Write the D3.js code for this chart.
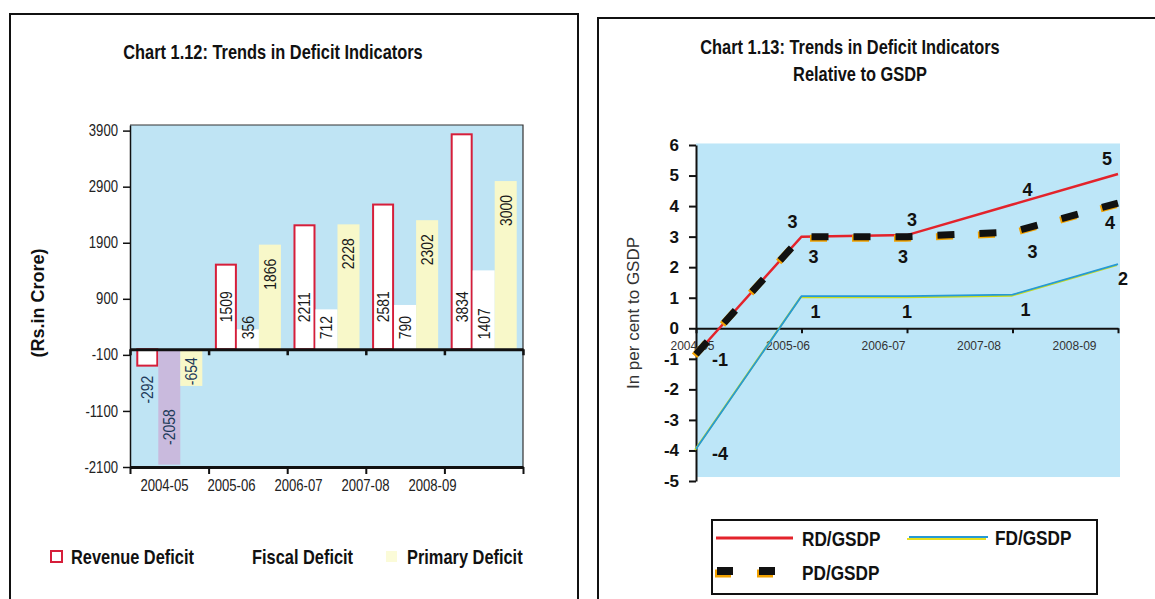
<!DOCTYPE html>
<html><head><meta charset="utf-8">
<script src="https://cdn.jsdelivr.net/npm/d3@7"></script>
<style>body{margin:0;background:#fff}svg{display:block}</style>
</head><body>
<svg id="c" width="1155" height="599"></svg>
<script>
// ---------- data ----------
const years = ["2004-05","2005-06","2006-07","2007-08","2008-09"];
const revenueDeficit = [-292, 1509, 2211, 2581, 3834];
const fiscalDeficit  = [-2058, 356, 712, 790, 1407];
const primaryDeficit = [-654, 1866, 2228, 2302, 3000];
const barTicks = [-2100, -1100, -100, 900, 1900, 2900, 3900];

const rdGsdp = [-0.85, 3.0, 3.05, 4.05, 5.05];
const fdGsdp = [-3.95, 1.05, 1.05, 1.1, 2.1];
const pdGsdp = [-0.85, 3.0, 3.0, 3.15, 4.1];
const lineTicks = [-5,-4,-3,-2,-1,0,1,2,3,4,5,6];

// ---------- setup ----------
const svg = d3.select("#c");
const FA = "'Liberation Sans',Arial,Helvetica,sans-serif";
const NX = 0.82; // narrow (Arial Narrow-like) horizontal scale

function ntext(g, x, y, txt, size, bold, anchor, rot) {
  return g.append("text")
    .attr("transform", `translate(${x},${y})${rot ? ` rotate(${rot})` : ""} scale(${NX},1)`)
    .attr("text-anchor", anchor || "start").attr("dy", "0.35em")
    .style("font-family", FA).style("font-weight", bold ? "bold" : "normal")
    .style("font-size", size + "px").attr("fill", "#111").text(txt);
}

// frames
svg.append("rect").attr("x",10).attr("y",14).attr("width",568).attr("height",620)
  .attr("fill","none").attr("stroke","#111").attr("stroke-width",2);
svg.append("rect").attr("x",598).attr("y",18).attr("width",600).attr("height",620)
  .attr("fill","none").attr("stroke","#111").attr("stroke-width",2);

// ================= LEFT: bar chart =================
const L = {l:130, r:523, t:125, b:467};
const seriesNames = ["Revenue Deficit","Fiscal Deficit","Primary Deficit"];
const seriesVals = [revenueDeficit, fiscalDeficit, primaryDeficit];

const xb = d3.scaleBand().domain(years).range([L.l, L.r]).paddingInner(0.16).paddingOuter(0.08);
const xs = d3.scaleBand().domain(seriesNames).range([0, xb.bandwidth()]);
const xTick = d3.scaleLinear().domain([0, years.length]).range([L.l, L.r]);
const xLab = d3.scaleBand().domain(years).range([131, 466]);
const yb = d3.scaleLinear().domain([-2100, 4000]).range([L.b, L.t]);

ntext(svg, 273, 52, "Chart 1.12: Trends in Deficit Indicators", 20, true, "middle");

const gL = svg.append("g");
gL.append("rect").attr("x",L.l).attr("y",yb(4000)).attr("width",L.r-L.l).attr("height",yb(-2100)-yb(4000))
  .attr("fill","#bfe4f4");
gL.append("path").attr("d",`M${L.l},${yb(4000)}H${L.r}V${yb(-2100)}`).attr("fill","none")
  .attr("stroke","#333").attr("stroke-width",1.2);

const fills = ["#ffffff","#ffffff","#f8f8c9"];
seriesNames.forEach((s, si) => {
  const vals = seriesVals[si];
  gL.append("g").selectAll("rect").data(years).join("rect")
    .attr("x", (d) => xb(d) + xs(s) + (si===0?1:0))
    .attr("width", xs.bandwidth() - (si===0?2:0))
    .attr("y", (d,i) => Math.min(yb(vals[i]), yb(0)))
    .attr("height", (d,i) => Math.abs(yb(vals[i]) - yb(0)))
    .attr("fill", (d,i) => (si===1 && vals[i] < 0) ? "#c9badd" : fills[si])
    .attr("stroke", si===0 ? "#d61e3a" : "none")
    .attr("stroke-width", 2);
});

// axes
const axY = gL.append("g").attr("transform",`translate(${L.l},0)`)
  .call(d3.axisLeft(yb).tickValues(barTicks).tickFormat(d => String(d)).tickSize(7).tickSizeOuter(0).tickPadding(5));
axY.select(".domain").attr("stroke","#111").attr("stroke-width",1.5);
axY.selectAll(".tick line").attr("stroke","#111").attr("stroke-width",1.5);
axY.selectAll("text").attr("x", -12 / NX).attr("transform",`scale(${NX},1)`)
  .style("font-family",FA).style("font-size","16px").attr("fill","#222");

const axZero = gL.append("g").attr("transform",`translate(0,${yb(0)})`)
  .call(d3.axisBottom(xTick).tickValues(d3.range(years.length+1)).tickFormat("").tickSize(6).tickSizeOuter(0));
axZero.select(".domain").attr("stroke","#111").attr("stroke-width",3);
axZero.selectAll(".tick line").attr("stroke","#111").attr("stroke-width",2.5);

const axBot = gL.append("g").attr("transform",`translate(0,${L.b})`)
  .call(d3.axisBottom(xTick).tickValues(d3.range(years.length+1)).tickFormat("").tickSize(7).tickSizeOuter(0));
axBot.select(".domain").attr("stroke","#111").attr("stroke-width",3);
axBot.selectAll(".tick line").attr("stroke","#111").attr("stroke-width",2);

const axLab = gL.append("g").attr("transform",`translate(0,${L.b+10})`)
  .call(d3.axisBottom(xLab).tickSize(0).tickPadding(3));
axLab.select(".domain").remove();
axLab.selectAll("text").attr("transform",`scale(${NX},1)`)
  .style("font-family",FA).style("font-size","16px").attr("fill","#222");

// bar value labels (rotated)
seriesNames.forEach((s, si) => {
  const vals = seriesVals[si];
  const g = gL.append("g");
  years.forEach((d, i) => {
    const v = vals[i];
    const cx = xb(d) + xs(s) + xs.bandwidth()/2;
    let y, anchor;
    if (v >= 0) {
      if (si===0) { y = yb(0) - 27; anchor = "start"; }
      else if (si===1) { y = yb(0) - 10; anchor = "start"; }
      else { y = yb(v) + 14; anchor = "end"; }
    } else {
      anchor = "end";
      if (si===0) { y = yb(v) + 10; }
      else if (si===1) { y = yb(0) + 60; }
      else { y = yb(0) + 8; }
    }
    ntext(g, cx, y, String(v), 17, false, anchor, -90).attr("fill", v < 0 ? "#1d3a5a" : "#1a1a1a");
  });
});

// y title
svg.append("text").attr("transform","translate(38,303) rotate(-90)").attr("text-anchor","middle")
  .attr("dy","0.35em").style("font-family",FA).style("font-weight","bold").style("font-size","18px")
  .attr("fill","#111").text("(Rs.in Crore)");

// legend
const lg = svg.append("g");
lg.append("rect").attr("x",51).attr("y",551).attr("width",11).attr("height",11)
  .attr("fill","#fff").attr("stroke","#d61e3a").attr("stroke-width",2);
lg.append("rect").attr("x",386).attr("y",551).attr("width",11).attr("height",11).attr("fill","#fbfbd8");
[["Revenue Deficit",71],["Fiscal Deficit",252],["Primary Deficit",407]].forEach(([t,x]) => {
  ntext(lg, x, 557, t, 20, true, "start");
});

// ================= RIGHT: line chart =================
const R = {l:696, r:1118, t:145, b:481};
const xp = d3.scalePoint().domain(years).range([R.l, R.r]);
const xpLab = d3.scalePoint().domain(years).range([692, 1074]);
const yl = d3.scaleLinear().domain([-5, 6]).range([R.b, R.t]);

ntext(svg, 850, 47, "Chart 1.13: Trends in Deficit Indicators", 20, true, "middle");
ntext(svg, 860, 74, "Relative to GSDP", 20, true, "middle");

const gR = svg.append("g");
gR.append("rect").attr("x",R.l).attr("y",yl(6.05)).attr("width",R.r-R.l+2).attr("height",yl(-4.87)-yl(6.05))
  .attr("fill","#bde6f8");

const axYR = gR.append("g").attr("transform",`translate(${R.l},0)`)
  .call(d3.axisLeft(yl).tickValues(lineTicks).tickFormat(d => String(d)).tickSize(7).tickSizeOuter(0).tickPadding(10));
axYR.select(".domain").attr("stroke","#111").attr("stroke-width",2);
axYR.selectAll(".tick line").attr("stroke","#111").attr("stroke-width",2);
axYR.selectAll("text").style("font-family",FA).style("font-weight","bold").style("font-size","17px").attr("fill","#111");

const axXR = gR.append("g").attr("transform",`translate(0,${yl(0)})`)
  .call(d3.axisBottom(xp).tickSize(5).tickSizeOuter(0).tickFormat(""));
axXR.select(".domain").attr("stroke","#111").attr("stroke-width",2);
axXR.selectAll(".tick line").attr("stroke","#111").attr("stroke-width",2);

const axXRL = gR.append("g").attr("transform",`translate(0,${yl(0)+13})`)
  .call(d3.axisBottom(xpLab).tickSize(0).tickPadding(0));
axXRL.select(".domain").remove();
axXRL.selectAll("text").style("font-family",FA).style("font-size","12px").attr("fill","#333");

// y title
svg.append("text").attr("transform","translate(633,313) rotate(-90)").attr("text-anchor","middle")
  .attr("dy","0.35em").style("font-family",FA).style("font-size","17px").attr("fill","#333")
  .text("In per cent to GSDP");

const line = (vals) => d3.line().x((d,i) => xp(years[i])).y((d) => yl(d))(vals);

// RD
gR.append("path").attr("d", line(rdGsdp)).attr("fill","none").attr("stroke","#e3232b").attr("stroke-width",2.5);
// FD (scan fringe)
gR.append("path").attr("d", line(fdGsdp)).attr("fill","none").attr("stroke","#c9dc1e").attr("stroke-width",2)
  .attr("transform","translate(-1,1)");
gR.append("path").attr("d", line(fdGsdp)).attr("fill","none").attr("stroke","#2599d6").attr("stroke-width",1.8);
// PD dashed
gR.append("path").attr("d", line(pdGsdp)).attr("fill","none").attr("stroke","#f2a200").attr("stroke-width",7)
  .attr("stroke-dasharray","17,25").attr("transform","translate(-1.5,1.5)");
gR.append("path").attr("d", line(pdGsdp)).attr("fill","none").attr("stroke","#111").attr("stroke-width",7)
  .attr("stroke-dasharray","17,25");

// point labels
function pointLabels(vals, above, dyBelow, skipFirst, dxs) {
  const pts = vals.map((v, i) => ({v, i})).filter(p => !(skipFirst && p.i === 0));
  gR.append("g").selectAll("text").data(pts).join("text")
    .attr("x", p => xp(years[p.i]) + dxs[p.i])
    .attr("y", p => yl(p.v) + (p.i===0 ? 5 : (above ? -15 : dyBelow)))
    .attr("text-anchor","middle").attr("dy","0.35em")
    .style("font-family",FA).style("font-weight","bold").style("font-size","18px").attr("fill","#111")
    .text(p => Math.round(p.v));
}
pointLabels(rdGsdp, true, 0, false, [24, -9, 5, 15, -11]);
pointLabels(pdGsdp, false, 20, true, [24, 12, -4, 20, -8]);
pointLabels(fdGsdp, false, 15, false, [24, 14, 0, 13, 5]);

// legend
const lgR = svg.append("g");
lgR.append("rect").attr("x",712).attr("y",520).attr("width",385).attr("height",74)
  .attr("fill","#fff").attr("stroke","#111").attr("stroke-width",2);
lgR.append("line").attr("x1",716).attr("x2",793).attr("y1",538).attr("y2",538).attr("stroke","#e3232b").attr("stroke-width",3);
lgR.append("line").attr("x1",907).attr("x2",986).attr("y1",539).attr("y2",539).attr("stroke","#e6e020").attr("stroke-width",2);
lgR.append("line").attr("x1",909).attr("x2",988).attr("y1",537).attr("y2",537).attr("stroke","#2599d6").attr("stroke-width",2);
lgR.append("line").attr("x1",716).attr("x2",778).attr("y1",572).attr("y2",572).attr("stroke","#f2a200").attr("stroke-width",8)
  .attr("stroke-dasharray","16,26").attr("transform","translate(-1,1.5)");
lgR.append("line").attr("x1",717).attr("x2",778).attr("y1",571).attr("y2",571).attr("stroke","#111").attr("stroke-width",8)
  .attr("stroke-dasharray","16,26");
[["RD/GSDP",802,539],["FD/GSDP",995,538],["PD/GSDP",802,573]].forEach(([t,x,y]) => {
  ntext(lgR, x, y, t, 21, true, "start");
});
</script>
</body></html>
